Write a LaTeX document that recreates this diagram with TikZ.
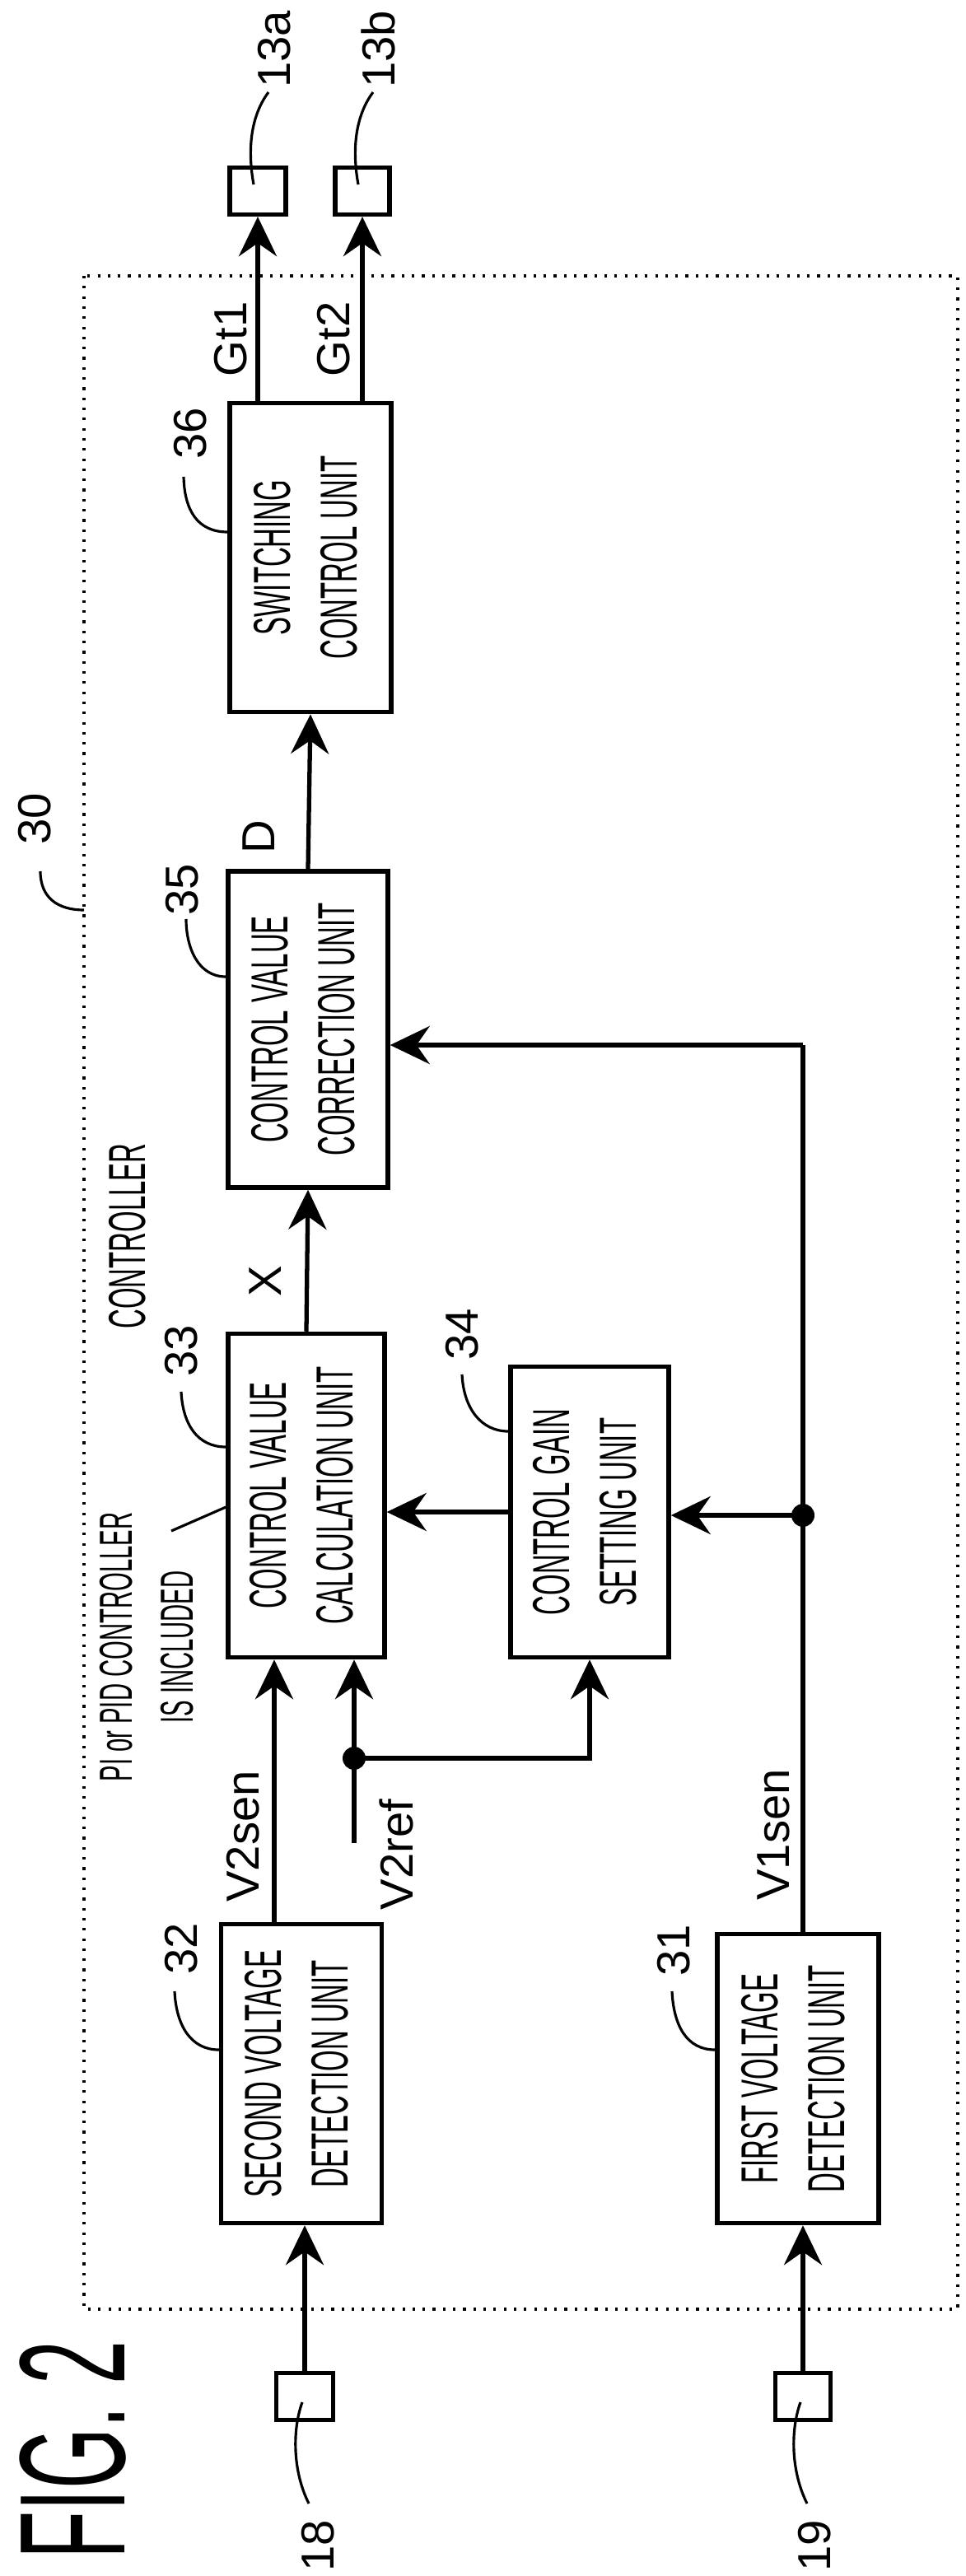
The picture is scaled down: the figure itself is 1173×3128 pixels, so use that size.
\documentclass[tikz,border=0pt]{standalone}
\usepackage{fontspec}
\setmainfont{Liberation Sans}
\newfontfamily\cond[FakeStretch=0.52]{Liberation Sans}
\usetikzlibrary{arrows.meta}
\begin{document}
\begin{tikzpicture}[x=0.01cm,y=-0.01cm,
  box/.style={draw,line width=1.5pt,inner sep=0pt,font=\cond\fontsize{18}{23}\selectfont,align=center},
  term/.style={draw,line width=1.5pt,inner sep=0pt},
  arr/.style={line width=1.5pt,-{Stealth[length=0.48cm,width=0.46cm,inset=0.16cm]}},
  ln/.style={line width=1.5pt},
  lead/.style={line width=0.9pt},
  num/.style={font=\fontsize{16}{19}\selectfont,rotate=90,inner sep=1pt},
  ctext/.style={font=\cond\fontsize{18}{22}\selectfont,rotate=90,inner sep=1pt,align=center},
  dotb/.style={line width=1.3pt,dash pattern=on 0.9pt off 2.6pt}]
\useasboundingbox (0,0) rectangle (1173,3128);
\draw[dotb] (102,335) rectangle (1163,2804);
% small terminals
\node[term,minimum width=0.68cm,minimum height=0.57cm] (t13a) at (313,232) {};
\node[term,minimum width=0.66cm,minimum height=0.57cm] (t13b) at (440,232) {};
\node[term,minimum width=0.69cm,minimum height=0.57cm] (t18) at (370,2910) {};
\node[term,minimum width=0.67cm,minimum height=0.57cm] (t19) at (975,2910) {};
% boxes
\node[box,minimum width=1.96cm,minimum height=3.75cm] (s36) at (377,677) {\rotatebox{90}{\begin{tabular}{c}SWITCHING\\CONTROL UNIT\end{tabular}}};
\node[box,minimum width=1.94cm,minimum height=3.84cm] (s35) at (374,1250) {\rotatebox{90}{\begin{tabular}{c}CONTROL VALUE\\CORRECTION UNIT\end{tabular}}};
\node[box,minimum width=1.90cm,minimum height=3.93cm] (s33) at (372,1816) {\rotatebox{90}{\begin{tabular}{c}CONTROL VALUE\\CALCULATION UNIT\end{tabular}}};
\node[box,minimum width=1.92cm,minimum height=3.53cm] (s34) at (716,1836) {\rotatebox{90}{\begin{tabular}{c}CONTROL GAIN\\SETTING UNIT\end{tabular}}};
\node[box,minimum width=1.95cm,minimum height=3.63cm] (s32) at (366,2518) {\rotatebox{90}{\begin{tabular}{c}SECOND VOLTAGE\\DETECTION UNIT\end{tabular}}};
\node[box,minimum width=1.96cm,minimum height=3.51cm] (s31) at (969,2524) {\rotatebox{90}{\begin{tabular}{c}FIRST VOLTAGE\\DETECTION UNIT\end{tabular}}};
% coordinates
\coordinate (vx) at (333,2000);
\coordinate (j1) at (975,1840);
\coordinate (c1) at (975,1269);
\coordinate (rb) at (430,2238);
\coordinate (j2) at (430,2135);
% connectors
\draw[arr] (s36.north -| t13a) -- (t13a.south);
\draw[arr] (s36.north -| t13b) -- (t13b.south);
\draw[arr] (s35.north) -- (s36.south);
\draw[arr] (s33.north) -- (s35.south);
\draw[arr] (s34.west) -- (s34.west -| s33.east);
\draw[ln] (s31.north -| t19) -- (c1);
\draw[arr] (c1) -- (c1 -| s35.east);
\draw[arr] (j1) -- (j1 -| s34.east);
\fill (j1) circle[radius=14];
\draw[arr] (s32.north -| vx) -- (s33.south -| vx);
\draw[ln] (rb) -- (j2);
\draw[arr] (j2) -- (j2 |- s33.south);
\draw[arr] (j2) -| (s34.south);
\fill (j2) circle[radius=14];
\draw[arr] (t18.north) -- (t18.north |- s32.south);
\draw[arr] (t19.north) -- (t19.north |- s31.south);
% labels
\node[num] (l13a) at (333,60) {13a};
\node[num] (l13b) at (459,60) {13b};
\node[num] (lg1) at (280,412) {Gt1};
\node[num] (lg2) at (405,412) {Gt2};
\node[num] (l36) at (231,526) {36};
\node[num] (lD) at (314,1016) {D};
\node[num] (l30) at (42,994) {30};
\node[num] (l35) at (221,1080) {35};
\node[num] (lX) at (322,1556) {X};
\node[ctext] (lctrl) at (155,1501) {CONTROLLER};
\node[num] (l33) at (220,1640) {33};
\node[num] (l34) at (561,1620) {34};
\node[ctext,font=\cond\fontsize{16}{21}\selectfont] (lpi) at (178,2000) {PI or PID CONTROLLER\\IS INCLUDED};
\node[num] (lv2s) at (295,2230) {V2sen};
\node[num] (lv2r) at (481,2252) {V2ref};
\node[num] (lv1s) at (939,2228) {V1sen};
\node[num] (l32) at (220,2366) {32};
\node[num] (l31) at (818,2368) {31};
\node[num] (l18) at (386,3091) {18};
\node[num] (l19) at (989,3091) {19};
\node[rotate=90,font=\cond\fontsize{52}{52}\selectfont,inner sep=0pt] (lfig) at (89,2975) {FIG. 2};
% leaders
\draw[lead] (308,224) .. controls (300,180) and (305,140) .. (326,112);
\draw[lead] (435,224) .. controls (427,180) and (432,140) .. (453,112);
\draw[lead] (s36.west |- 0,646) .. controls (240,646) and (224,620) .. (223,579);
\draw[lead] (49,1058) .. controls (49,1090) and (70,1105) .. (102,1105);
\draw[lead] (s35.west |- 0,1186) .. controls (240,1186) and (226,1150) .. (226,1116);
\draw[lead] (s33.west |- 0,1757) .. controls (240,1757) and (222,1730) .. (220,1690);
\draw[lead] (s34.west |- 0,1738) .. controls (584,1738) and (563,1710) .. (561,1669);
\draw[lead] (s33.west |- 0,1830) -- (208,1859);
\draw[lead] (s32.west |- 0,2489) .. controls (232,2489) and (214,2460) .. (212,2418);
\draw[lead] (s31.west |- 0,2489) .. controls (834,2489) and (818,2460) .. (816,2418);
\draw[lead] (367,2917) .. controls (355,2950) and (355,3000) .. (375,3040);
\draw[lead] (972,2917) .. controls (960,2950) and (960,3000) .. (980,3040);
\end{tikzpicture}
\end{document}
